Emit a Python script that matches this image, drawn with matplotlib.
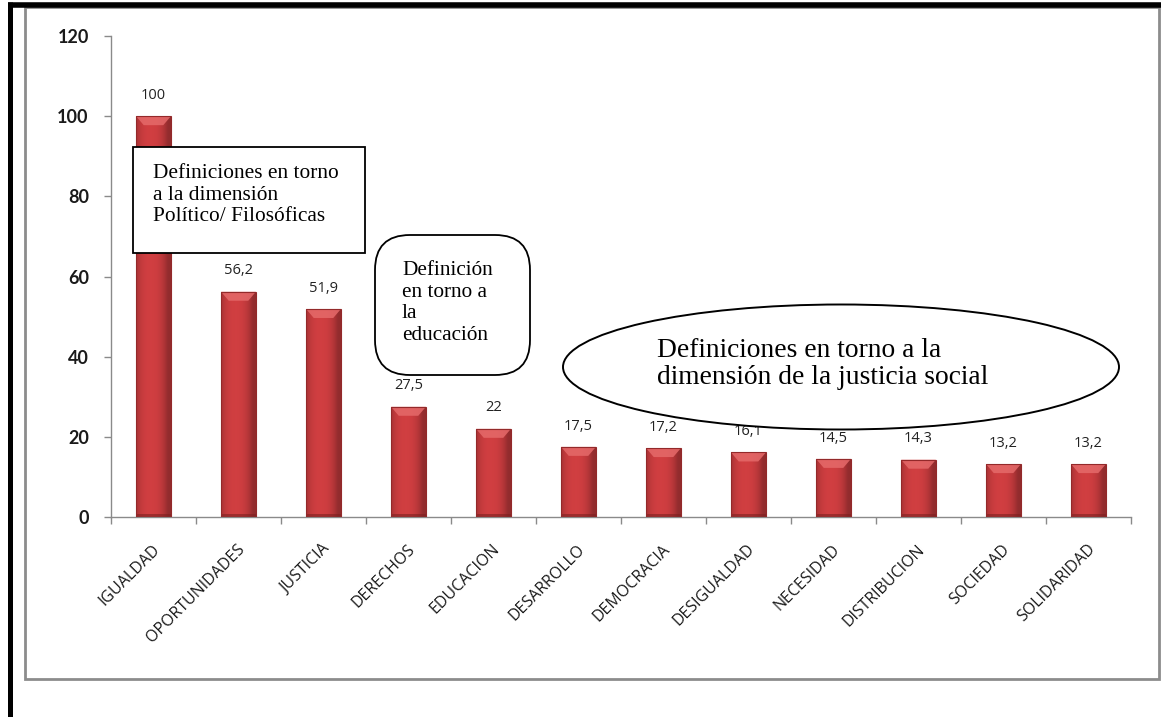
import matplotlib
matplotlib.use("Agg")
import matplotlib.pyplot as plt
import numpy as np
from matplotlib.patches import Rectangle, FancyBboxPatch, Ellipse, Polygon
from matplotlib.lines import Line2D
import matplotlib.transforms as mtransforms

categories = ["IGUALDAD", "OPORTUNIDADES", "JUSTICIA", "DERECHOS", "EDUCACION",
              "DESARROLLO", "DEMOCRACIA", "DESIGUALDAD", "NECESIDAD",
              "DISTRIBUCION", "SOCIEDAD", "SOLIDARIDAD"]
values = [100, 56.2, 51.9, 27.5, 22, 17.5, 17.2, 16.1, 14.5, 14.3, 13.2, 13.2]
value_labels = ["100", "56,2", "51,9", "27,5", "22", "17,5", "17,2", "16,1",
                "14,5", "14,3", "13,2", "13,2"]
yticks = [0, 20, 40, 60, 80, 100, 120]

W, H = 1164, 717
fig = plt.figure(figsize=(W / 100, H / 100), dpi=100)
fig.patch.set_facecolor("white")

def fx(px):
    return px / W

def fy(py):
    return 1 - py / H

# outer frames
fig.add_artist(Rectangle((fx(25), fy(679)), fx(1159) - fx(25), fy(7) - fy(679),
                         transform=fig.transFigure, fill=False,
                         edgecolor="#8c8c8c", linewidth=2.0))
fig.add_artist(Line2D([fx(8), fx(1161)], [fy(4.5), fy(4.5)], transform=fig.transFigure,
                      color="black", linewidth=4.0, solid_capstyle="butt"))
fig.add_artist(Line2D([fx(9.5), fx(9.5)], [fy(2), 0], transform=fig.transFigure,
                      color="black", linewidth=3.6, solid_capstyle="butt"))

ax = fig.add_axes([fx(111), fy(517), fx(1131) - fx(111), fy(36) - fy(517)])
ax.set_xlim(-0.5, len(categories) - 0.5)
ax.set_ylim(0, 120)

x = np.arange(len(categories))
bars = ax.bar(x, values, width=0.41, color="#C53B3C", edgecolor="none",
              linewidth=0, zorder=2)

# horizontal shading gradient clipped to bars
n = 64
t = np.linspace(0, 1, n)
shade = 0.72 + 0.30 * np.clip(1 - (np.abs(t - 0.42) / 0.5) ** 2.5, 0, 1)
img = np.zeros((1, n, 4))
base = np.array([0.80, 0.24, 0.25])
img[0, :, :3] = np.clip(base[None, :] * shade[:, None], 0, 1)
img[0, :, 3] = 1
ppd = 481 / 120.0  # pixels per data unit (vertical)
for b in bars:
    x0, y0 = b.get_x(), b.get_y()
    w, h = b.get_width(), b.get_height()
    im = ax.imshow(img, extent=[x0, x0 + w, y0, y0 + h], aspect="auto",
                   zorder=2.5, interpolation="bicubic")
    im.set_clip_path(b)
    bev = 9 / ppd
    inset = w * 0.22
    ax.add_patch(Polygon([[x0, y0 + h], [x0 + w, y0 + h],
                          [x0 + w - inset, y0 + h - bev], [x0 + inset, y0 + h - bev]],
                         closed=True, facecolor="#E56A6A", edgecolor="none",
                         alpha=0.85, zorder=2.6))
    bot = 3 / ppd
    ax.add_patch(Rectangle((x0, y0), w, bot, facecolor="#7E2020",
                           edgecolor="none", alpha=0.6, zorder=2.6))
    ax.add_patch(Rectangle((x0, y0), w, h, fill=False, edgecolor="#93292A",
                           linewidth=0.8, zorder=2.7))

for xi, v, lab in zip(x, values, value_labels):
    ax.annotate(lab, (xi, v), xytext=(0, 15), textcoords="offset points",
                ha="center", va="center", fontsize=10.5, family="Open Sans",
                color="#222222", zorder=3)

for s in ["top", "right"]:
    ax.spines[s].set_visible(False)
for s in ["left", "bottom"]:
    ax.spines[s].set_color("#8a8a8a")
    ax.spines[s].set_linewidth(1.0)

ax.set_yticks(yticks)
ax.set_yticklabels([str(t) for t in yticks], fontsize=13, fontweight="bold",
                   family="Lato", color="#1a1a1a")
ax.tick_params(axis="y", length=5, width=1, color="#8a8a8a", pad=11)

ax.set_xticks(np.arange(len(categories) + 1) - 0.5)
ax.set_xticklabels([])
ax.tick_params(axis="x", length=5, width=1, color="#8a8a8a")

offset = mtransforms.ScaledTranslation(4 / 100, -30 / 100, fig.dpi_scale_trans)
for xi, cat in zip(x, categories):
    ax.text(xi, 0, cat, rotation=45, rotation_mode="anchor", ha="right",
            va="center", fontsize=11.5, family="Open Sans", color="#1a1a1a",
            transform=ax.transData + offset, clip_on=False)

serif = ["Liberation Serif", "DejaVu Serif"]

# Box 1: rectangle
fig.add_artist(Rectangle((fx(133), fy(253)), fx(365) - fx(133), fy(147) - fy(253),
                         transform=fig.transFigure, facecolor="white",
                         edgecolor="black", linewidth=1.3, zorder=10))
fig.text(fx(153), fy(195), "Definiciones en torno\na la dimensión\nPolítico/ Filosóficas",
         ha="left", va="center", fontsize=15.4, family=serif, linespacing=1.17,
         zorder=11)

# Box 2: rounded rectangle
fig.add_artist(FancyBboxPatch((fx(375), fy(375)), fx(530) - fx(375), fy(235) - fy(375),
                              boxstyle="round,pad=0,rounding_size=0.03",
                              transform=fig.transFigure, facecolor="white",
                              edgecolor="black", linewidth=1.3, zorder=10,
                              mutation_aspect=W / H))
fig.text(fx(402), fy(303), "Definición\nen torno a\nla\neducación",
         ha="left", va="center", fontsize=15.3, family=serif, linespacing=1.2,
         zorder=11)

# Ellipse
fig.add_artist(Ellipse((fx(841), fy(367)), fx(1119) - fx(563), fy(305) - fy(430),
                       transform=fig.transFigure, facecolor="white",
                       edgecolor="black", linewidth=1.4, zorder=10))
fig.text(fx(657), fy(364), "Definiciones en torno a la\ndimensión de la justicia social",
         ha="left", va="center", fontsize=19.8, family=serif, linespacing=1.1,
         zorder=11)

fig.savefig("out.png", dpi=100)
